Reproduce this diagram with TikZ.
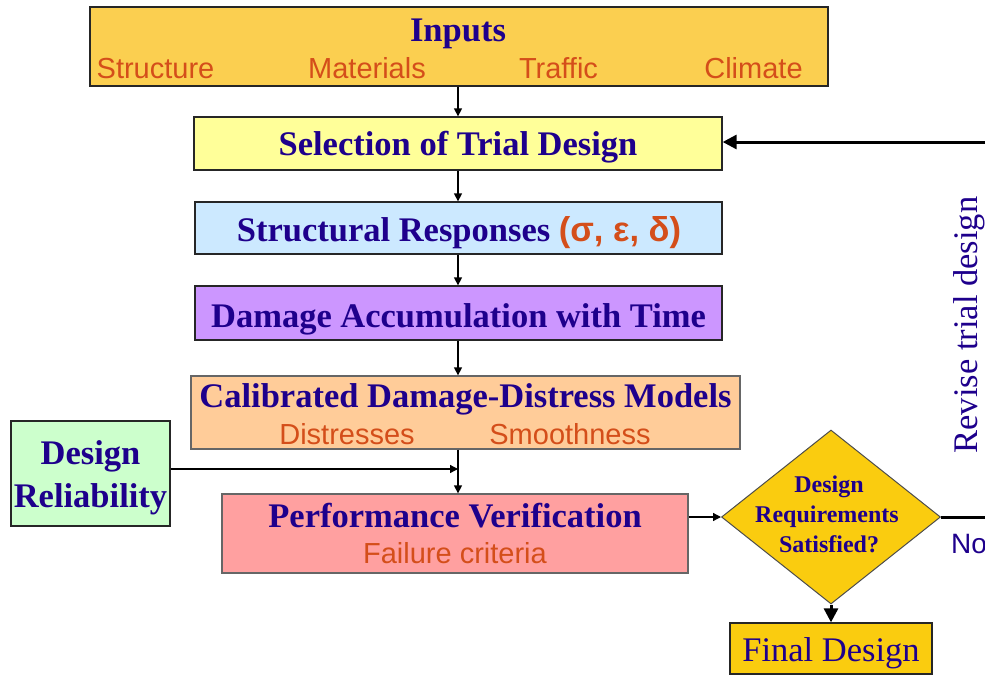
\documentclass[tikz,border=0pt]{standalone}
\usepackage{fontspec}
\setmainfont{Liberation Serif}
\newfontfamily\arialf{Liberation Sans}
\usetikzlibrary{shapes.geometric,arrows.meta}
\definecolor{tblue}{RGB}{30,0,140}
\definecolor{tred}{RGB}{212,78,26}
\definecolor{cinputs}{RGB}{251,207,80}
\definecolor{csel}{RGB}{255,255,153}
\definecolor{cresp}{RGB}{204,233,255}
\definecolor{cdmg}{RGB}{204,150,255}
\definecolor{ccal}{RGB}{255,204,153}
\definecolor{crel}{RGB}{204,255,204}
\definecolor{cperf}{RGB}{255,160,160}
\definecolor{cgold}{RGB}{250,204,15}
\tikzset{
  boxnode/.style={draw=black!85, line width=1.3pt, rectangle, inner sep=0pt},
  ttl/.style={anchor=base, text=tblue, font=\bfseries\fontsize{34.5}{40}\selectfont, inner sep=0pt},
  sub/.style={anchor=base, text=tred, font=\arialf\fontsize{29}{34}\selectfont, inner sep=0pt},
  dtxt/.style={anchor=base, text=tblue, font=\bfseries\fontsize{24}{28}\selectfont, inner sep=0pt},
  arr/.style={draw=black, line width=1.3pt, -{Triangle[length=8pt,width=8pt]}},
  tarr/.style={draw=black, line width=3pt, -{Triangle[length=14pt,width=14pt]}},
  tline/.style={draw=black, line width=3pt},
}
\begin{document}
\begin{tikzpicture}[x=1pt,y=-1pt]
\useasboundingbox (0,0) rectangle (985,675);
% boxes
\node[boxnode, fill=cinputs, minimum width=738pt, minimum height=79pt] (inputs) at (459,46.5) {};
\node[boxnode, fill=csel, minimum width=528pt, minimum height=53pt] (sel) at (458,143.5) {};
\node[boxnode, fill=cresp, minimum width=527pt, minimum height=52pt] (resp) at (458.5,228) {};
\node[boxnode, fill=cdmg, minimum width=527pt, minimum height=54pt] (dmg) at (458.5,313) {};
\node[boxnode, fill=ccal, draw=black!60, minimum width=549pt, minimum height=73pt] (cal) at (465.5,412.5) {};
\node[boxnode, fill=crel, minimum width=159pt, minimum height=105pt] (rel) at (90.5,473.5) {};
\node[boxnode, fill=cperf, draw=black!60, minimum width=466pt, minimum height=79pt] (perf) at (455,533.5) {};
\node[boxnode, fill=cgold, draw=black!70, line width=1pt, diamond, minimum width=219pt, minimum height=174pt] (dia) at (831,517) {};
\node[boxnode, fill=cgold, minimum width=202pt, minimum height=51pt] (final) at (831,648.5) {};
% texts
\node[ttl] (tinputs) at (458,41) {Inputs};
\node[sub] (tstruct) at (155.5,78) {Structure};
\node[sub] (tmat) at (367,78) {Materials};
\node[sub] (ttraf) at (558.5,78) {Traffic};
\node[sub] (tclim) at (753.5,78) {Climate};
\node[ttl] (tsel) at (458,155) {Selection of Trial Design};
\node[ttl] (tresp) at (459,241) {Structural Responses {\color{tred}\arialf\bfseries(σ, ε, δ)}};
\node[ttl] (tdmg) at (458.5,327) {Damage Accumulation with Time};
\node[ttl] (tcal) at (465.5,407) {Calibrated Damage-Distress Models};
\node[sub] (tdist) at (347,444) {Distresses};
\node[sub] (tsmooth) at (570,444) {Smoothness};
\node[ttl] (trel1) at (90.5,464) {Design};
\node[ttl] (trel2) at (90.5,507) {Reliability};
\node[ttl] (tperf) at (455,527) {Performance Verification};
\node[sub] (tfail) at (455,563) {Failure criteria};
\node[dtxt] (td1) at (829,492) {Design};
\node[dtxt] (td2) at (827,522) {Requirements};
\node[dtxt] (td3) at (829,552) {Satisfied?};
\node[anchor=base, text=tblue, font=\fontsize{34.5}{40}\selectfont, inner sep=0pt] (tfinal) at (831,661) {Final Design};
\node[anchor=base, rotate=90, text=tblue, font=\fontsize{34.5}{40}\selectfont, inner sep=0pt] (trev) at (977,325) {Revise trial design};
\node[anchor=base west, text=tblue, font=\arialf\fontsize{28}{32}\selectfont, inner sep=0pt] (tno) at (951,553) {No};
% connectors
\coordinate (sp) at (458,0);
\coordinate (relin) at (458,469);
\coordinate (fbR) at (986,517);
\coordinate (fbT) at (986,142);
\draw[arr] (inputs.south -| sp) -- (sel.north -| sp);
\draw[arr] (sel.south -| sp) -- (resp.north -| sp);
\draw[arr] (resp.south -| sp) -- (dmg.north -| sp);
\draw[arr] (dmg.south -| sp) -- (cal.north -| sp);
\draw[arr] (cal.south -| sp) -- (perf.north -| sp);
\draw[arr] (rel.east |- relin) -- (relin);
\draw[arr] (perf.east |- dia.west) -- (dia.west);
\draw[tarr] (dia.south) -- (final.north);
\draw[tline] (dia.east) -- (fbR);
\draw[tarr] (fbT) -- (sel.east |- fbT);
\end{tikzpicture}
\end{document}
